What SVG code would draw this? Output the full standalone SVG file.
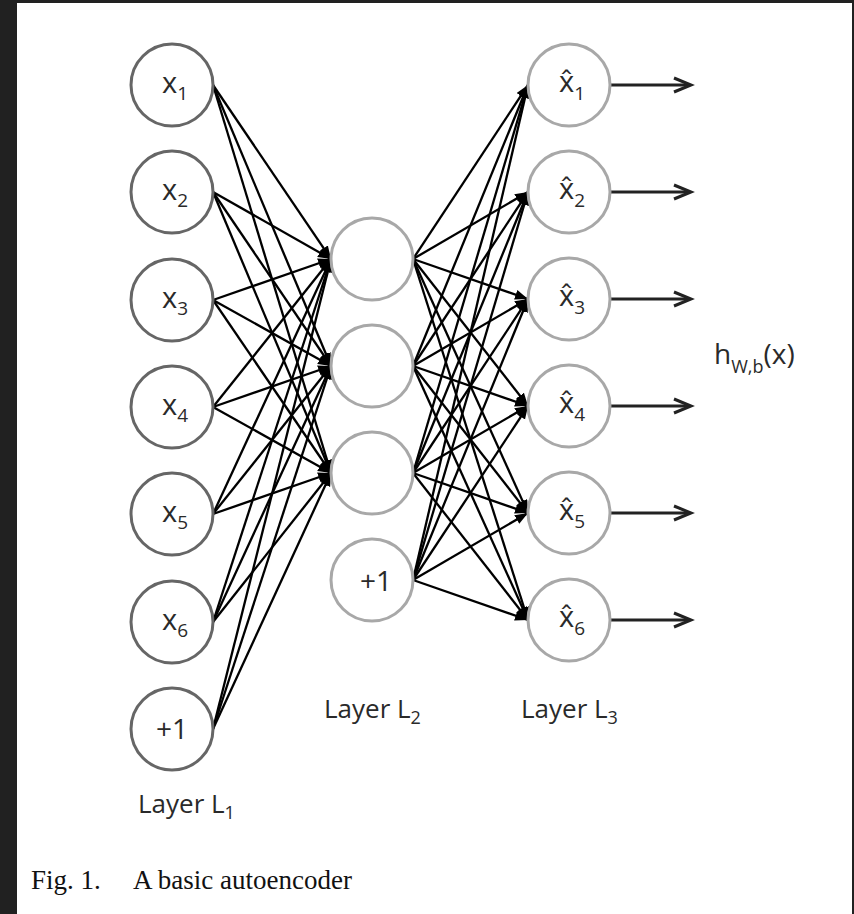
<svg xmlns="http://www.w3.org/2000/svg" width="854" height="914" viewBox="0 0 854 914">
<defs>
<marker id="ah" markerUnits="userSpaceOnUse" markerWidth="15" markerHeight="11" refX="13" refY="5" orient="auto">
<path d="M0,0 L13,5 L0,10 z" fill="#000"/>
</marker>
<style>
.l1 { fill:#fff; stroke:#666; stroke-width:3; }
.l2 { fill:#fff; stroke:#a8a8a8; stroke-width:3; }
.lbl { font-family:"Open Sans","Liberation Sans",sans-serif; fill:#2a2a2a; }
.edge { stroke:#000; stroke-width:2.3; fill:none; marker-end:url(#ah); }
.out { stroke:#222; stroke-width:3; fill:none; }
.cap { font-family:"Liberation Serif","Times New Roman",serif; font-size:27px; fill:#111; }
</style>
</defs>
<rect x="0" y="0" width="854" height="914" fill="#212121"/>
<rect x="17" y="3" width="835" height="911" fill="#fff"/>

<g id="connectors">
<!-- L1 -> L2 -->
<line class="edge" x1="213" y1="85" x2="331" y2="259"/>
<line class="edge" x1="213" y1="85" x2="331" y2="366"/>
<line class="edge" x1="213" y1="85" x2="331" y2="473"/>
<line class="edge" x1="213" y1="192" x2="331" y2="259"/>
<line class="edge" x1="213" y1="192" x2="331" y2="366"/>
<line class="edge" x1="213" y1="192" x2="331" y2="473"/>
<line class="edge" x1="213" y1="300" x2="331" y2="259"/>
<line class="edge" x1="213" y1="300" x2="331" y2="366"/>
<line class="edge" x1="213" y1="300" x2="331" y2="473"/>
<line class="edge" x1="213" y1="407" x2="331" y2="259"/>
<line class="edge" x1="213" y1="407" x2="331" y2="366"/>
<line class="edge" x1="213" y1="407" x2="331" y2="473"/>
<line class="edge" x1="213" y1="514" x2="331" y2="259"/>
<line class="edge" x1="213" y1="514" x2="331" y2="366"/>
<line class="edge" x1="213" y1="514" x2="331" y2="473"/>
<line class="edge" x1="213" y1="622" x2="331" y2="259"/>
<line class="edge" x1="213" y1="622" x2="331" y2="366"/>
<line class="edge" x1="213" y1="622" x2="331" y2="473"/>
<line class="edge" x1="213" y1="729" x2="331" y2="259"/>
<line class="edge" x1="213" y1="729" x2="331" y2="366"/>
<line class="edge" x1="213" y1="729" x2="331" y2="473"/>
<!-- L2 -> L3 -->
<line class="edge" x1="413" y1="259" x2="528" y2="85"/>
<line class="edge" x1="413" y1="259" x2="528" y2="192"/>
<line class="edge" x1="413" y1="259" x2="528" y2="299"/>
<line class="edge" x1="413" y1="259" x2="528" y2="406"/>
<line class="edge" x1="413" y1="259" x2="528" y2="513"/>
<line class="edge" x1="413" y1="259" x2="528" y2="620"/>
<line class="edge" x1="413" y1="366" x2="528" y2="85"/>
<line class="edge" x1="413" y1="366" x2="528" y2="192"/>
<line class="edge" x1="413" y1="366" x2="528" y2="299"/>
<line class="edge" x1="413" y1="366" x2="528" y2="406"/>
<line class="edge" x1="413" y1="366" x2="528" y2="513"/>
<line class="edge" x1="413" y1="366" x2="528" y2="620"/>
<line class="edge" x1="413" y1="473" x2="528" y2="85"/>
<line class="edge" x1="413" y1="473" x2="528" y2="192"/>
<line class="edge" x1="413" y1="473" x2="528" y2="299"/>
<line class="edge" x1="413" y1="473" x2="528" y2="406"/>
<line class="edge" x1="413" y1="473" x2="528" y2="513"/>
<line class="edge" x1="413" y1="473" x2="528" y2="620"/>
<line class="edge" x1="413" y1="580" x2="528" y2="85"/>
<line class="edge" x1="413" y1="580" x2="528" y2="192"/>
<line class="edge" x1="413" y1="580" x2="528" y2="299"/>
<line class="edge" x1="413" y1="580" x2="528" y2="406"/>
<line class="edge" x1="413" y1="580" x2="528" y2="513"/>
<line class="edge" x1="413" y1="580" x2="528" y2="620"/>
<!-- outputs -->
<g class="out">
<line x1="611" y1="85" x2="690" y2="85"/><polyline points="674,78 691,85 674,92"/>
<line x1="611" y1="192" x2="690" y2="192"/><polyline points="674,185 691,192 674,199"/>
<line x1="611" y1="299" x2="690" y2="299"/><polyline points="674,292 691,299 674,306"/>
<line x1="611" y1="406" x2="690" y2="406"/><polyline points="674,399 691,406 674,413"/>
<line x1="611" y1="513" x2="690" y2="513"/><polyline points="674,506 691,513 674,520"/>
<line x1="611" y1="620" x2="690" y2="620"/><polyline points="674,613 691,620 674,627"/>
</g>
</g>

<!-- Layer 1 -->
<g id="x1"><circle class="l1" cx="172" cy="85" r="41"/><text class="lbl" x="175" y="93" font-size="29" text-anchor="middle">x<tspan font-size="19" dy="7">1</tspan></text></g>
<g id="x2"><circle class="l1" cx="172" cy="192" r="41"/><text class="lbl" x="175" y="200" font-size="29" text-anchor="middle">x<tspan font-size="19" dy="7">2</tspan></text></g>
<g id="x3"><circle class="l1" cx="172" cy="300" r="41"/><text class="lbl" x="175" y="308" font-size="29" text-anchor="middle">x<tspan font-size="19" dy="7">3</tspan></text></g>
<g id="x4"><circle class="l1" cx="172" cy="407" r="41"/><text class="lbl" x="175" y="415" font-size="29" text-anchor="middle">x<tspan font-size="19" dy="7">4</tspan></text></g>
<g id="x5"><circle class="l1" cx="172" cy="514" r="41"/><text class="lbl" x="175" y="522" font-size="29" text-anchor="middle">x<tspan font-size="19" dy="7">5</tspan></text></g>
<g id="x6"><circle class="l1" cx="172" cy="622" r="41"/><text class="lbl" x="175" y="630" font-size="29" text-anchor="middle">x<tspan font-size="19" dy="7">6</tspan></text></g>
<g id="b1"><circle class="l1" cx="172" cy="729" r="41"/><text class="lbl" x="172" y="739" font-size="28" text-anchor="middle">+1</text></g>

<!-- Layer 2 -->
<g id="h1"><circle class="l2" cx="372" cy="259" r="41"/></g>
<g id="h2"><circle class="l2" cx="372" cy="366" r="41"/></g>
<g id="h3"><circle class="l2" cx="372" cy="473" r="41"/></g>
<g id="b2"><circle class="l2" cx="372" cy="580" r="41"/><text class="lbl" x="376" y="591" font-size="28" text-anchor="middle">+1</text></g>

<!-- Layer 3 -->
<g id="y1"><circle class="l2" cx="569" cy="85" r="41"/><text class="lbl" x="572" y="92" font-size="29" text-anchor="middle">x̂<tspan font-size="19" dy="8">1</tspan></text></g>
<g id="y2"><circle class="l2" cx="569" cy="192" r="41"/><text class="lbl" x="572" y="199" font-size="29" text-anchor="middle">x̂<tspan font-size="19" dy="8">2</tspan></text></g>
<g id="y3"><circle class="l2" cx="569" cy="299" r="41"/><text class="lbl" x="572" y="306" font-size="29" text-anchor="middle">x̂<tspan font-size="19" dy="8">3</tspan></text></g>
<g id="y4"><circle class="l2" cx="569" cy="406" r="41"/><text class="lbl" x="572" y="413" font-size="29" text-anchor="middle">x̂<tspan font-size="19" dy="8">4</tspan></text></g>
<g id="y5"><circle class="l2" cx="569" cy="513" r="41"/><text class="lbl" x="572" y="520" font-size="29" text-anchor="middle">x̂<tspan font-size="19" dy="8">5</tspan></text></g>
<g id="y6"><circle class="l2" cx="569" cy="620" r="41"/><text class="lbl" x="572" y="627" font-size="29" text-anchor="middle">x̂<tspan font-size="19" dy="8">6</tspan></text></g>

<!-- labels -->
<g id="labels">
<text class="lbl" x="714" y="364" font-size="28">h<tspan font-size="18" dy="9">W,b</tspan><tspan dy="-9">(x)</tspan></text>
<text class="lbl" x="138" y="813" font-size="26">Layer L<tspan font-size="18" dy="6">1</tspan></text>
<text class="lbl" x="324" y="718" font-size="26">Layer L<tspan font-size="18" dy="6">2</tspan></text>
<text class="lbl" x="521" y="718" font-size="26">Layer L<tspan font-size="18" dy="6">3</tspan></text>
<text class="cap" x="31" y="889">Fig. 1.</text>
<text class="cap" x="133" y="889">A basic autoencoder</text>
</g>
</svg>
